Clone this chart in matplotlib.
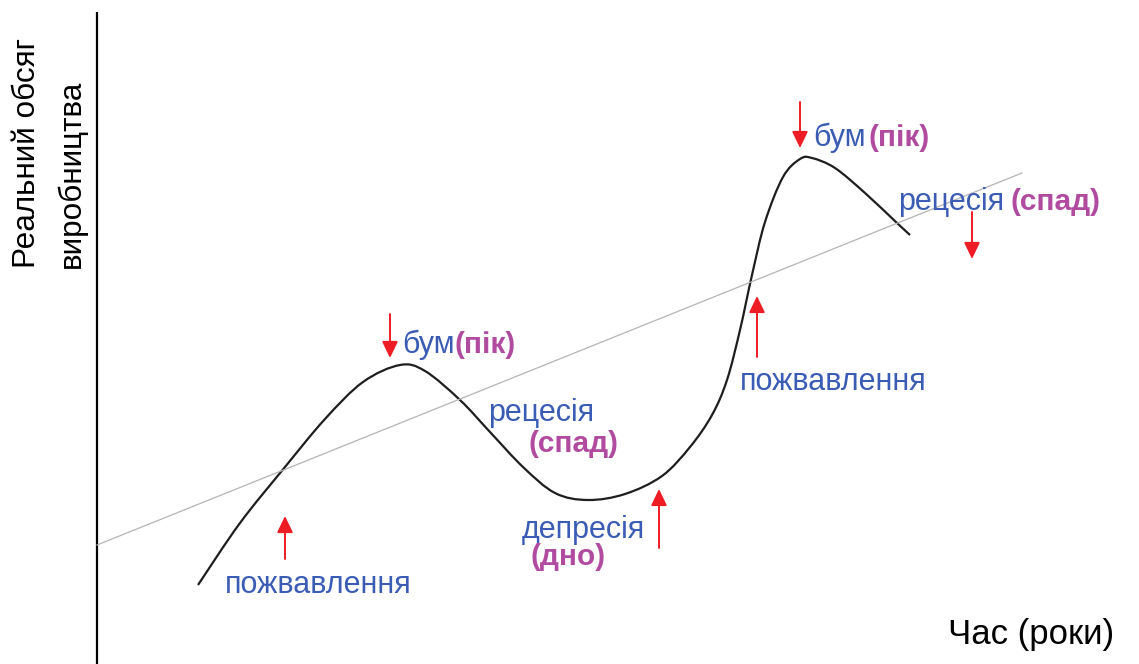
import matplotlib
matplotlib.use("Agg")
import matplotlib.pyplot as plt
from matplotlib.path import Path
from matplotlib.patches import PathPatch

# ---- data (in pixel units of the 1139x664 image) ----
curve_x = [198, 240, 285, 325, 363, 400, 425, 460, 490, 523, 555,
           588, 625, 662, 690, 712, 727, 740, 752, 765, 783, 800, 812, 835, 865,
           897, 910]
curve_y = [585, 523, 467, 419, 382, 365, 371, 400, 432, 467, 493,
           500, 494, 476, 447, 415, 380, 330, 275, 222, 177, 159, 158, 168, 193,
           223, 235]

trend_x = [97, 1022]
trend_y = [545, 173]

axis_x = [97, 97]
axis_y = [12, 664]

# arrows: tails and tips
arrow_tail_x = [390, 800, 972, 659, 285, 757]
arrow_tail_y = [314, 102, 212, 548, 559, 357]
arrow_tip_x = [390, 800, 972, 659, 285, 757]
arrow_tip_y = [358, 148, 259, 489, 516, 296]

blue_labels = ["бум", "бум", "рецесія", "рецесія", "депресія", "пожвавлення", "пожвавлення"]
blue_x = [402, 813, 898, 488, 522, 225, 740]
blue_y = [353, 146, 210, 421, 538, 593, 390]

pink_labels = ["(пік)", "(пік)", "(спад)", "(спад)", "(дно)"]
pink_x = [455, 868, 1011, 528, 531]
pink_y = [353, 146, 210, 452, 565]

y_label_lines = ["Реальний обсяг", "виробництва"]
y_label_x = [35, 80]
y_label_y = [268, 268]

x_label = "Час (роки)"
x_label_pos = (948, 644)

BLUE = "#3a5cb4"
PINK = "#b04ba0"
RED = "#ee1c24"
FONT = "Liberation Sans"


def smooth_path(xs, ys):
    """Catmull-Rom curve through the points, expressed as cubic Bezier segments."""
    pts = list(zip(xs, ys))
    verts = [pts[0]]
    codes = [Path.MOVETO]
    n = len(pts)
    for i in range(n - 1):
        p0 = pts[i - 1] if i > 0 else pts[i]
        p1 = pts[i]
        p2 = pts[i + 1]
        p3 = pts[i + 2] if i + 2 < n else pts[i + 1]
        c1 = (p1[0] + (p2[0] - p0[0]) / 6.0, p1[1] + (p2[1] - p0[1]) / 6.0)
        c2 = (p2[0] - (p3[0] - p1[0]) / 6.0, p2[1] - (p3[1] - p1[1]) / 6.0)
        verts += [c1, c2, p2]
        codes += [Path.CURVE4] * 3
    return Path(verts, codes)


fig = plt.figure(figsize=(11.39, 6.64), dpi=100)
ax = fig.add_axes([0, 0, 1, 1])
ax.set_xlim(0, 1139)
ax.set_ylim(664, 0)
ax.axis("off")

ax.plot(axis_x, axis_y, color="black", lw=1.6, solid_capstyle="butt")
ax.plot(trend_x, trend_y, color="#b4b4b4", lw=0.9)
ax.add_patch(PathPatch(smooth_path(curve_x, curve_y), facecolor="none",
                       edgecolor="#1e1e1e", lw=1.6))

for tx, ty, hx, hy in zip(arrow_tail_x, arrow_tail_y, arrow_tip_x, arrow_tip_y):
    ax.annotate("", xy=(hx, hy), xytext=(tx, ty),
                arrowprops=dict(arrowstyle="-|>,head_length=0.5,head_width=0.24",
                                color=RED, lw=1.4, mutation_scale=20,
                                shrinkA=0, shrinkB=0))

for s, x, y in zip(blue_labels, blue_x, blue_y):
    ax.text(x, y, s, color=BLUE, fontsize=22, family=FONT, ha="left", va="baseline")

for s, x, y in zip(pink_labels, pink_x, pink_y):
    ax.text(x, y, s, color=PINK, fontsize=21.5, family=FONT, fontweight="bold",
            ha="left", va="baseline")

for s, x, y in zip(y_label_lines, y_label_x, y_label_y):
    ax.text(x, y, s, color="black", fontsize=22.7, family=FONT, rotation=90,
            rotation_mode="anchor", ha="left", va="baseline")

ax.text(x_label_pos[0], x_label_pos[1], x_label, color="black", fontsize=25,
        family=FONT, ha="left", va="baseline")

fig.savefig("out.png", dpi=100, facecolor="white")
